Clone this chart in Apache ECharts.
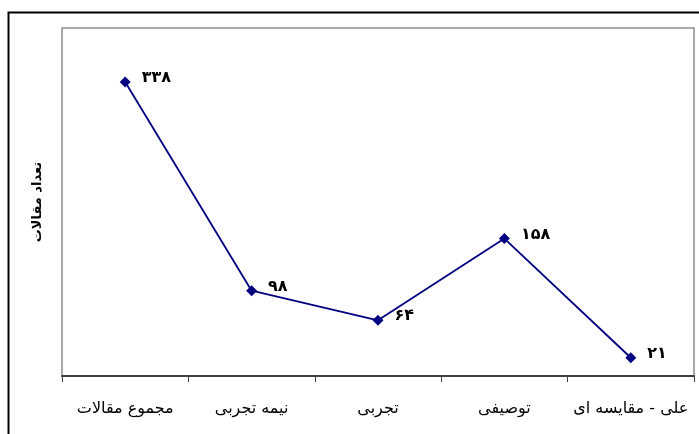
<!DOCTYPE html>
<html><head><meta charset="utf-8">
<script src="https://cdn.jsdelivr.net/npm/echarts@6/dist/echarts.min.js"></script>
<style>html,body{margin:0;padding:0;background:#fff}#c{width:699px;height:434px}</style>
</head><body><div id="c"></div>
<script>
const categories = ['مجموع مقالات', 'نیمه تجربی', 'تجربی', 'توصیفی', 'علی - مقایسه ای'];
const values = [338, 98, 64, 158, 21];
const valueLabels = ['۳۳۸', '۹۸', '۶۴', '۱۵۸', '۲۱'];
const yTitle = 'تعداد مقالات';

const chart = echarts.init(document.getElementById('c'), null, {renderer: 'canvas'});
chart.setOption({
  animation: false,
  backgroundColor: '#fff',
  graphic: [{
    type: 'rect', left: 6, top: 10, z: 0,
    shape: {x: 0, y: 0, width: 800, height: 600},
    style: {fill: 'none', stroke: '#000', lineWidth: 2}
  }],
  grid: {left: 62, top: 28, right: 5, bottom: 58, show: true, borderColor: '#8c8c8c', borderWidth: 1.5, backgroundColor: 'transparent'},
  xAxis: {
    type: 'category', data: categories, boundaryGap: true,
    axisLine: {lineStyle: {color: '#404040', width: 2}},
    axisTick: {show: true, interval: 0, length: 6, lineStyle: {color: '#404040', width: 1}},
    axisLabel: {interval: 0, margin: 25, color: '#000', fontSize: 16, fontFamily: 'DejaVu Sans'}
  },
  yAxis: {
    type: 'value', min: 0, max: 400,
    name: yTitle, nameLocation: 'middle', nameGap: 18,
    nameTextStyle: {color: '#000', fontSize: 13, fontWeight: 'bold', fontFamily: 'DejaVu Sans'},
    axisLine: {show: false}, axisTick: {show: false}, axisLabel: {show: false}, splitLine: {show: false}
  },
  series: [{
    type: 'line', data: values,
    symbol: 'diamond', symbolSize: 11,
    lineStyle: {color: '#000080', width: 1.8},
    itemStyle: {color: '#000080'},
    label: {
      show: true, position: 'right', distance: 11, offset: [0, -4],
      color: '#000', fontSize: 16, fontWeight: 'bold', fontFamily: 'DejaVu Sans',
      formatter: p => valueLabels[p.dataIndex]
    }
  }]
});
</script></body></html>
